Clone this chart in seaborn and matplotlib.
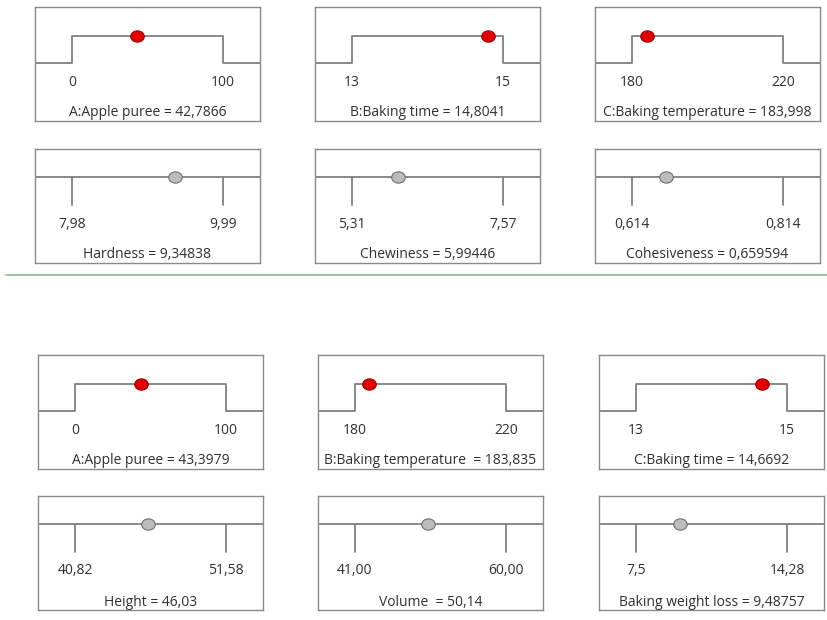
import numpy as np
import pandas as pd
import seaborn as sns
import matplotlib.pyplot as plt
from matplotlib.path import Path

# factor settings (top block)
top_factor_names = ["A:Apple puree", "B:Baking time", "C:Baking temperature"]
top_factor_low = [0, 13, 180]
top_factor_high = [100, 15, 220]
top_factor_value = [42.7866, 14.8041, 183.998]
top_factor_low_lbl = ["0", "13", "180"]
top_factor_high_lbl = ["100", "15", "220"]
top_factor_val_lbl = ["42,7866", "14,8041", "183,998"]

# responses (top block)
top_resp_names = ["Hardness", "Chewiness", "Cohesiveness"]
top_resp_low = [7.98, 5.31, 0.614]
top_resp_high = [9.99, 7.57, 0.814]
top_resp_value = [9.34838, 5.99446, 0.659594]
top_resp_low_lbl = ["7,98", "5,31", "0,614"]
top_resp_high_lbl = ["9,99", "7,57", "0,814"]
top_resp_val_lbl = ["9,34838", "5,99446", "0,659594"]

# factor settings (bottom block)
bot_factor_names = ["A:Apple puree", "B:Baking temperature ", "C:Baking time"]
bot_factor_low = [0, 180, 13]
bot_factor_high = [100, 220, 15]
bot_factor_value = [43.3979, 183.835, 14.6692]
bot_factor_low_lbl = ["0", "180", "13"]
bot_factor_high_lbl = ["100", "220", "15"]
bot_factor_val_lbl = ["43,3979", "183,835", "14,6692"]

# responses (bottom block)
bot_resp_names = ["Height", "Volume ", "Baking weight loss"]
bot_resp_low = [40.82, 41.00, 7.5]
bot_resp_high = [51.58, 60.00, 14.28]
bot_resp_value = [46.03, 50.14, 9.48757]
bot_resp_low_lbl = ["40,82", "41,00", "7,5"]
bot_resp_high_lbl = ["51,58", "60,00", "14,28"]
bot_resp_val_lbl = ["46,03", "50,14", "9,48757"]

sns.set_style("white")
plt.rcParams['font.family'] = ['Open Sans', 'DejaVu Sans']

W, H = 828, 620
fig = plt.figure(figsize=(W / 100, H / 100), dpi=100)

LINE = '#808080'
TXT = '#303030'
FS = 10
PAD = 0.245  # fraction of range shown outside the limits
BOX_H = 114

# slightly oval marker like the original
uc = Path.unit_circle()
oval = Path(uc.vertices * np.array([1.2, 1.0]), uc.codes)


def make_ax(left, top, width=225, height=BOX_H):
    ax = fig.add_axes([left / W, 1 - (top + height) / H, width / W, height / H])
    for s in ax.spines.values():
        s.set_visible(True)
        s.set_color('#8a8a8a')
        s.set_linewidth(1.0)
    ax.set_xticks([])
    ax.set_yticks([])
    ax.set_ylim(0, BOX_H)
    return ax


def panel(ax, lo, hi, val, lo_lbl, hi_lbl, title, factor):
    rng = hi - lo
    x0, x1 = lo - PAD * rng, hi + PAD * rng
    ax.set_xlim(x0, x1)
    if factor:
        # desirability ramp: step up between the limits
        df = pd.DataFrame({'x': [x0, lo, lo, hi, hi, x1],
                           'y': [58, 58, 85, 85, 58, 58]})
        sns.lineplot(data=df, x='x', y='y', sort=False, estimator=None,
                     color=LINE, linewidth=1.3, ax=ax)
        pt = pd.DataFrame({'x': [val], 'y': [85]})
        sns.scatterplot(data=pt, x='x', y='y', marker=oval, s=95,
                        color='#e00000', edgecolor='#a00000', linewidth=0.8,
                        ax=ax, zorder=5)
    else:
        df = pd.DataFrame({'x': [x0, x1], 'y': [86, 86]})
        sns.lineplot(data=df, x='x', y='y', color=LINE, linewidth=1.3, ax=ax)
        for v in (lo, hi):
            ax.plot([v, v], [86, 58], color=LINE, linewidth=1.3)
        pt = pd.DataFrame({'x': [val], 'y': [86]})
        sns.scatterplot(data=pt, x='x', y='y', marker=oval, s=95,
                        color='#bdbdbd', edgecolor='#707070', linewidth=0.8,
                        ax=ax, zorder=5)
    ax.text(lo, 39, lo_lbl, ha='center', va='center', fontsize=FS, color=TXT)
    ax.text(hi, 39, hi_lbl, ha='center', va='center', fontsize=FS, color=TXT)
    ax.text((x0 + x1) / 2, 8, title, ha='center', va='center',
            fontsize=FS, color=TXT)
    ax.set_xlabel('')
    ax.set_ylabel('')
    ax.set_xticks([])
    ax.set_yticks([])


top_cols = [35, 315, 595]
bot_cols = [38, 318, 599]

for i in range(3):
    ax = make_ax(top_cols[i], 7)
    panel(ax, top_factor_low[i], top_factor_high[i], top_factor_value[i],
          top_factor_low_lbl[i], top_factor_high_lbl[i],
          f"{top_factor_names[i]} = {top_factor_val_lbl[i]}", True)
    ax = make_ax(top_cols[i], 149)
    panel(ax, top_resp_low[i], top_resp_high[i], top_resp_value[i],
          top_resp_low_lbl[i], top_resp_high_lbl[i],
          f"{top_resp_names[i]} = {top_resp_val_lbl[i]}", False)

    ax = make_ax(bot_cols[i], 355)
    panel(ax, bot_factor_low[i], bot_factor_high[i], bot_factor_value[i],
          bot_factor_low_lbl[i], bot_factor_high_lbl[i],
          f"{bot_factor_names[i]} = {bot_factor_val_lbl[i]}", True)
    ax = make_ax(bot_cols[i], 496)
    panel(ax, bot_resp_low[i], bot_resp_high[i], bot_resp_value[i],
          bot_resp_low_lbl[i], bot_resp_high_lbl[i],
          f"{bot_resp_names[i]} = {bot_resp_val_lbl[i]}", False)

# green separator between the two solutions
fig.add_artist(plt.Line2D([6 / W, 1.0], [1 - 274.5 / H, 1 - 274.5 / H],
                          color='#8cc49a', linewidth=1.3))

fig.savefig('out.png', dpi=100)
